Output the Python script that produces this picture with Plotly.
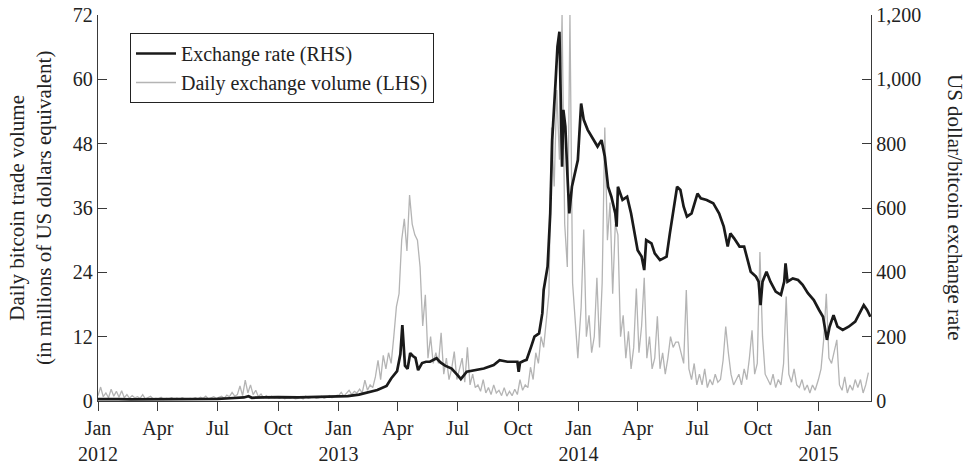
import pandas as pd
import plotly.graph_objects as go

# ---------------- data ----------------
rate_dates = [
    "2012-01-01", "2012-01-15", "2012-02-01", "2012-02-20", "2012-03-10", "2012-04-01",
    "2012-05-01", "2012-06-01", "2012-07-01", "2012-07-20", "2012-08-10", "2012-08-17",
    "2012-08-22", "2012-09-10", "2012-10-01", "2012-11-01", "2012-12-01",
    "2013-01-01", "2013-01-15", "2013-02-01", "2013-02-15", "2013-03-01", "2013-03-15",
    "2013-03-22", "2013-03-31", "2013-04-05", "2013-04-08", "2013-04-10", "2013-04-12",
    "2013-04-16", "2013-04-20", "2013-04-24", "2013-04-28", "2013-05-02", "2013-05-08",
    "2013-05-14", "2013-05-20", "2013-05-30", "2013-06-05", "2013-06-12", "2013-06-22",
    "2013-07-02", "2013-07-06", "2013-07-15", "2013-07-25", "2013-08-10", "2013-08-25",
    "2013-09-03", "2013-09-15", "2013-09-30", "2013-10-02", "2013-10-04", "2013-10-10",
    "2013-10-14", "2013-10-21", "2013-10-26", "2013-11-02", "2013-11-07", "2013-11-09",
    "2013-11-15", "2013-11-19", "2013-11-22", "2013-11-27", "2013-11-30", "2013-12-03",
    "2013-12-05", "2013-12-07", "2013-12-09", "2013-12-12", "2013-12-15", "2013-12-18",
    "2013-12-22", "2013-12-27", "2013-12-31",
    "2014-01-05", "2014-01-09", "2014-01-15", "2014-01-25", "2014-01-30", "2014-02-05",
    "2014-02-10", "2014-02-15", "2014-02-20", "2014-02-26", "2014-02-28", "2014-03-02",
    "2014-03-09", "2014-03-16", "2014-03-22", "2014-04-01", "2014-04-07", "2014-04-11",
    "2014-04-14", "2014-04-22", "2014-04-27", "2014-05-05", "2014-05-15", "2014-05-20",
    "2014-05-25", "2014-05-31", "2014-06-05", "2014-06-10", "2014-06-15", "2014-06-22",
    "2014-07-01", "2014-07-06", "2014-07-15", "2014-07-25", "2014-08-03", "2014-08-10",
    "2014-08-16", "2014-08-20", "2014-08-26", "2014-09-03", "2014-09-10", "2014-09-15",
    "2014-09-20", "2014-09-28", "2014-10-02", "2014-10-05", "2014-10-08", "2014-10-14",
    "2014-10-20", "2014-10-28", "2014-11-05", "2014-11-10", "2014-11-12", "2014-11-15",
    "2014-11-23", "2014-12-01", "2014-12-08", "2014-12-16", "2014-12-25",
    "2015-01-02", "2015-01-08", "2015-01-14", "2015-01-18", "2015-01-24", "2015-01-30",
    "2015-02-07", "2015-02-16", "2015-02-26", "2015-03-04", "2015-03-11", "2015-03-16",
    "2015-03-21",
]
rate_values = [
    6, 6.5, 6, 5, 5, 5,
    5, 5.5, 6.5, 8.5, 11, 15,
    10, 11, 12, 11, 12.5,
    13, 15, 20, 27, 34, 47,
    70, 93, 145, 236, 160, 110,
    100, 149, 140, 134, 96, 118,
    122, 122, 133, 120, 110, 101,
    78, 68, 91, 95, 101, 112,
    127, 122, 122, 91, 119, 125,
    128, 169, 200, 210, 273, 345,
    418, 583, 811, 988, 1102, 1148,
    977, 728, 905, 853, 709, 583,
    666, 708, 749,
    925, 874, 843, 811, 791, 811,
    760, 666, 635, 583, 542, 666,
    625, 635, 583, 469, 449, 407,
    500, 490, 459, 438, 449, 521,
    583, 666, 656, 604, 573, 583,
    645, 630, 625, 615, 583, 542,
    480, 521, 505, 480, 480, 440,
    402, 387, 371, 298, 371, 402,
    371, 340, 330, 371, 428, 371,
    381, 376, 361, 335, 314,
    283, 262, 190, 231, 267, 231,
    221, 231, 247, 273, 298, 283,
    262,
]

# daily exchange volume, sampled every 4 days from 1 January of each year (US$ millions)
vol_2012 = [
    1.0, 2.6, 0.8, 1.5, 0.6, 2.2, 0.9, 1.8,
    0.7, 1.9, 0.6, 1.2, 0.5, 1.0, 0.6,
    0.8, 0.5, 1.2, 0.4, 0.6, 0.9, 0.4, 0.5,
    0.4, 0.7, 0.3, 0.5, 0.4, 0.6, 0.3,
    0.5, 0.3, 0.6, 0.4, 0.3, 0.5, 0.4, 0.6,
    0.4, 0.7, 0.5, 0.9, 0.4, 0.6, 0.8, 0.5,
    0.7, 0.9, 0.5, 1.1, 0.8, 1.6, 0.9,
    1.2, 2.8, 1.0, 3.9, 1.5, 3.0, 1.2, 2.0,
    0.8, 1.3, 0.6, 1.0, 0.5, 0.9, 0.6, 0.7,
    0.5, 0.8, 0.4, 0.6, 0.5, 0.7, 0.4,
    0.5, 0.7, 0.4, 0.9, 0.5, 0.6, 0.8, 0.5,
    0.6, 0.9, 0.5, 0.7, 1.0, 0.6, 0.8, 1.1,
]
vol_2013 = [
    1.0, 1.6, 0.9, 1.4, 2.0, 1.2, 1.8, 1.5,
    2.2, 1.5, 3.9, 2.0, 3.0, 2.5, 4.5,
    7.6, 4.0, 8.5, 6.0, 9.0, 7.0, 12.0, 17.6,
    20.0, 30.0, 34.0, 28.0, 38.4, 33.0, 31.0,
    30.0, 25.0, 14.0, 19.8, 8.0, 12.0, 7.0, 9.0,
    7.0, 12.7, 5.0, 8.0, 4.0, 6.0, 9.2, 4.0,
    6.0, 8.0, 3.5, 10.0, 3.0, 5.0, 2.5,
    3.0, 1.8, 4.0, 1.5, 2.5, 1.2, 3.0, 1.5,
    2.0, 1.0, 2.5, 0.9, 1.8, 1.0, 2.2, 1.2,
    4.0, 2.0, 3.0, 2.5, 6.3, 4.0, 9.0,
    7.0, 12.0, 10.0, 15.7, 20.0, 51.0, 40.0, 58.0,
    45.0, 72.0, 33.0, 25.0, 72.0, 22.0, 14.0, 8.0,
]
vol_2014 = [
    10.0, 17.5, 32.0, 12.0, 16.0, 9.0, 12.0, 23.0,
    10.0, 22.0, 51.0, 30.0, 37.0, 20.0, 33.0,
    31.0, 12.0, 16.0, 8.0, 13.0, 6.0, 10.0, 21.0,
    9.0, 14.0, 23.0, 8.0, 12.0, 6.0, 8.0,
    15.8, 6.0, 9.0, 5.0, 8.0, 12.0, 10.0, 11.0,
    11.0, 9.0, 7.0, 20.7, 6.0, 4.0, 7.0, 3.0,
    5.0, 3.0, 6.0, 2.5, 4.0, 3.0, 5.0,
    3.5, 4.0, 7.6, 13.9, 9.0, 5.0, 3.0, 4.0,
    5.0, 3.0, 6.0, 4.0, 8.0, 13.2, 5.0, 7.0,
    27.8, 12.0, 5.0, 4.0, 3.0, 5.0, 2.5,
    4.0, 3.0, 7.0, 19.5, 5.0, 3.5, 6.0, 3.0,
    2.5, 4.0, 2.0, 3.0, 1.5, 3.0, 2.0, 3.5,
]
vol_2015 = [
    4.0, 6.0, 11.4, 20.0, 8.0, 7.0, 9.0, 11.4,
    3.0, 2.0, 4.5, 1.5, 3.0, 2.0, 4.0,
    2.5, 4.0, 1.5, 3.0, 5.3,
]

tick_dates = [
    "2012-01-01", "2012-04-01", "2012-07-01", "2012-10-01",
    "2013-01-01", "2013-04-01", "2013-07-01", "2013-10-01",
    "2014-01-01", "2014-04-01", "2014-07-01", "2014-10-01",
    "2015-01-01",
]
tick_labels = [
    "Jan<br>2012", "Apr", "Jul", "Oct",
    "Jan<br>2013", "Apr", "Jul", "Oct",
    "Jan<br>2014", "Apr", "Jul", "Oct",
    "Jan<br>2015",
]

# ---------------- build ----------------
vol_dates = []
vol_values = []
for year, vals in ((2012, vol_2012), (2013, vol_2013), (2014, vol_2014), (2015, vol_2015)):
    vol_dates += list(pd.date_range(f"{year}-01-01", periods=len(vals), freq="4D"))
    vol_values += vals

FONT = "Liberation Serif"
TXT = "#222222"
AX = "#3a3a3a"

W, H = 969, 465
L, T = 98, 15
PW, PH = 773, 386

fig = go.Figure()
fig.add_trace(go.Scatter(
    x=vol_dates, y=vol_values, mode="lines", name="Daily exchange volume (LHS)",
    line=dict(color="#b4b4b4", width=1.3), yaxis="y", legendrank=2,
))
fig.add_trace(go.Scatter(
    x=pd.to_datetime(rate_dates), y=rate_values, mode="lines", name="Exchange rate (RHS)",
    line=dict(color="#1a1a1a", width=2.7), yaxis="y2", legendrank=1,
))

fig.update_layout(
    width=W, height=H,
    margin=dict(l=L, r=W - L - PW, t=T, b=H - T - PH, autoexpand=False),
    paper_bgcolor="white", plot_bgcolor="white",
    font=dict(family=FONT, size=20, color=TXT),
    showlegend=True,
    legend=dict(
        x=(130 - L) / PW, y=(401 - 33) / PH, xanchor="left", yanchor="top",
        bgcolor="white", bordercolor="#222222", borderwidth=1,
        font=dict(family=FONT, size=20, color=TXT),
        tracegroupgap=0, itemwidth=40,
    ),
    xaxis=dict(
        type="date", range=["2012-01-01", "2015-03-22"], automargin=False,
        tickvals=tick_dates, ticktext=tick_labels, ticklabeloverflow="allow",
        ticks="outside", ticklen=9, tickwidth=1.2, tickcolor=AX,
        showline=True, linecolor=AX, linewidth=1.3, showgrid=False, zeroline=False,
        tickfont=dict(family=FONT, size=20, color=TXT),
    ),
    yaxis=dict(
        range=[0, 72], tickvals=[0, 12, 24, 36, 48, 60, 72], automargin=False,
        ticklabeloverflow="allow",
        ticks="inside", ticklen=9, tickwidth=1.2, tickcolor=AX,
        showline=True, linecolor=AX, linewidth=1.3, showgrid=False, zeroline=False,
        tickfont=dict(family=FONT, size=20, color=TXT),
    ),
    yaxis2=dict(
        range=[0, 1200], tickvals=[0, 200, 400, 600, 800, 1000, 1200], tickformat=",",
        overlaying="y", side="right", automargin=False, ticklabeloverflow="allow",
        ticks="inside", ticklen=9, tickwidth=1.2, tickcolor=AX,
        showline=True, linecolor=AX, linewidth=1.3, showgrid=False, zeroline=False,
        tickfont=dict(family=FONT, size=20, color=TXT),
    ),
    annotations=[
        dict(text="Daily bitcoin trade volume<br>(in millions of US dollars equivalent)",
             textangle=-90, xref="paper", yref="paper", x=(30 - L) / PW, y=0.5,
             xanchor="center", yanchor="middle", showarrow=False,
             font=dict(family=FONT, size=21, color=TXT)),
        dict(text="US dollar/bitcoin exchange rate",
             textangle=90, xref="paper", yref="paper", x=(955 - L) / PW, y=0.5,
             xanchor="center", yanchor="middle", showarrow=False,
             font=dict(family=FONT, size=21, color=TXT)),
    ],
)

# remove the default 8px page margin so the figure sits at the window origin
fig.write_html(
    "out.html",
    config={"displayModeBar": False},
    post_script="document.body.style.margin='0px';",
)
